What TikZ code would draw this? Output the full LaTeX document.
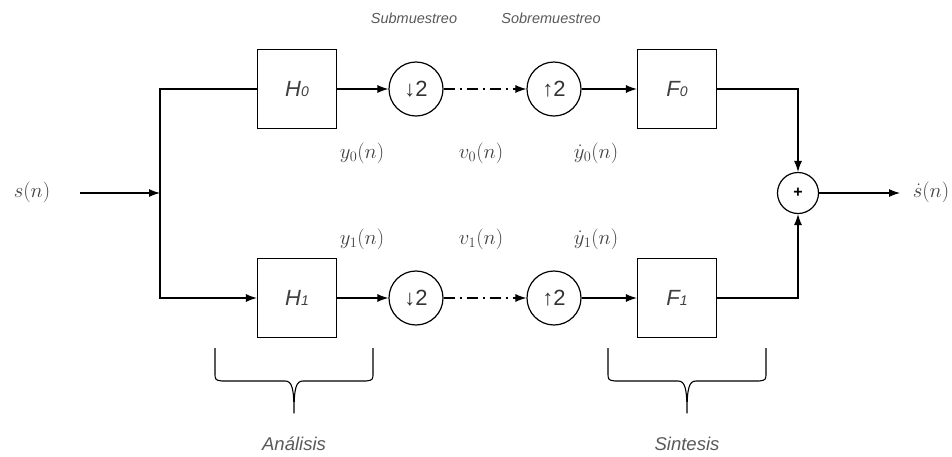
\documentclass[tikz,border=0pt]{standalone}
\usepackage{fontspec}
\newfontfamily\arialf{Liberation Sans}
\usetikzlibrary{arrows.meta}
\tikzset{
  blk/.style = {
    draw, line width=1.2pt, minimum size=79pt, inner sep=0pt,
    font=\arialf\itshape\fontsize{22}{24}\selectfont, text=black!75
  },
  smp/.style = {draw, circle, line width=1.2pt, minimum size=54pt, inner sep=0pt,
    font=\arialf\fontsize{22}{24}\selectfont, text=black!80},
  sig/.style = {line width=1.1pt, -{Latex[length=11pt,width=8pt]}},
  dashdot/.style = {dash pattern=on 11pt off 5pt on 2pt off 5pt},
  lbl/.style = {font=\fontsize{21}{25}\selectfont, text=black!75},
  ttl/.style = {font=\arialf\itshape\fontsize{14.5}{16}\selectfont, text=black!65},
  brc/.style = {line width=1.1pt, line join=round}
}

\begin{document}
\begin{tikzpicture}[x=1pt,y=-1pt]
\useasboundingbox (0,0) rectangle (952,456);
\coordinate (in) at (80,193);
\coordinate (split) at (160,193);
\coordinate (out) at (900,193);
% analysis / synthesis rows
\node[blk] (h0) at (297,89) {H{\fontsize{14}{14}\selectfont 0}};
\node[blk] (h1) at (297,298) {H{\fontsize{14}{14}\selectfont 1}};
\node[smp] (dn0) at (416,89) {↓2};
\node[smp] (dn1) at (416,298) {↓2};
\node[smp] (up0) at (554,89) {↑2};
\node[smp] (up1) at (554,298) {↑2};
\node[blk] (f0) at (677,89) {F{\fontsize{14}{14}\selectfont 0}};
\node[blk] (f1) at (677,298) {F{\fontsize{14}{14}\selectfont 1}};
\node[draw, circle, line width=1.2pt, minimum size=41pt, inner sep=0pt,
      font=\arialf\bfseries\fontsize{16}{16}\selectfont] (sum) at (798,193) {+};
% signal names
\node[lbl] (sin) at (32,192) {$s(n)$};
\node[lbl] (sout) at (931,192) {$\dot{s}(n)$};
\node[lbl] (ly0) at (362,153) {$y_0(n)$};
\node[lbl] (lv0) at (481,153) {$v_0(n)$};
\node[lbl] (lz0) at (596,153) {$\dot{y}_0(n)$};
\node[lbl] (ly1) at (362,239) {$y_1(n)$};
\node[lbl] (lv1) at (481,239) {$v_1(n)$};
\node[lbl] (lz1) at (596,239) {$\dot{y}_1(n)$};
\node[ttl] (tsub) at (414,18) {Submuestreo};
\node[ttl] (tsob) at (551,18) {Sobremuestreo};
\node[ttl, font=\arialf\itshape\fontsize{18.5}{20}\selectfont] (tana) at (294,444) {Análisis};
\node[ttl, font=\arialf\itshape\fontsize{18.5}{20}\selectfont] (tsin) at (687,444) {Sintesis};
% connectors
\draw[sig] (in) -- (split);
\draw[line width=1.1pt] (h0.west) -| (split);
\draw[sig] (split) |- (h1.west);
\foreach \r in {0,1}{
  \draw[sig] (h\r.east) -- (dn\r.west);
  \draw[sig, dashdot] (dn\r.east) -- (up\r.west);
  \draw[sig] (up\r.east) -- (f\r.west);
}
\draw[sig] (f0.east) -| (sum.north);
\draw[sig] (f1.east) -| (sum.south);
\draw[sig] (sum.east) -- (out);
% braces under the filter banks
\foreach \c/\w in {294/79, 687/79}{
  \draw[brc] ({\c-\w},348) -- ({\c-\w},372) .. controls ({\c-\w},380) .. ({\c-\w+7},381)
    -- ({\c-9},381) .. controls ({\c-2},381) and (\c,388) .. (\c,413)
    .. controls (\c,388) and ({\c+2},381) .. ({\c+9},381)
    -- ({\c+\w-7},381) .. controls ({\c+\w},380) .. ({\c+\w},372) -- ({\c+\w},348);
}
\end{tikzpicture}
\end{document}
